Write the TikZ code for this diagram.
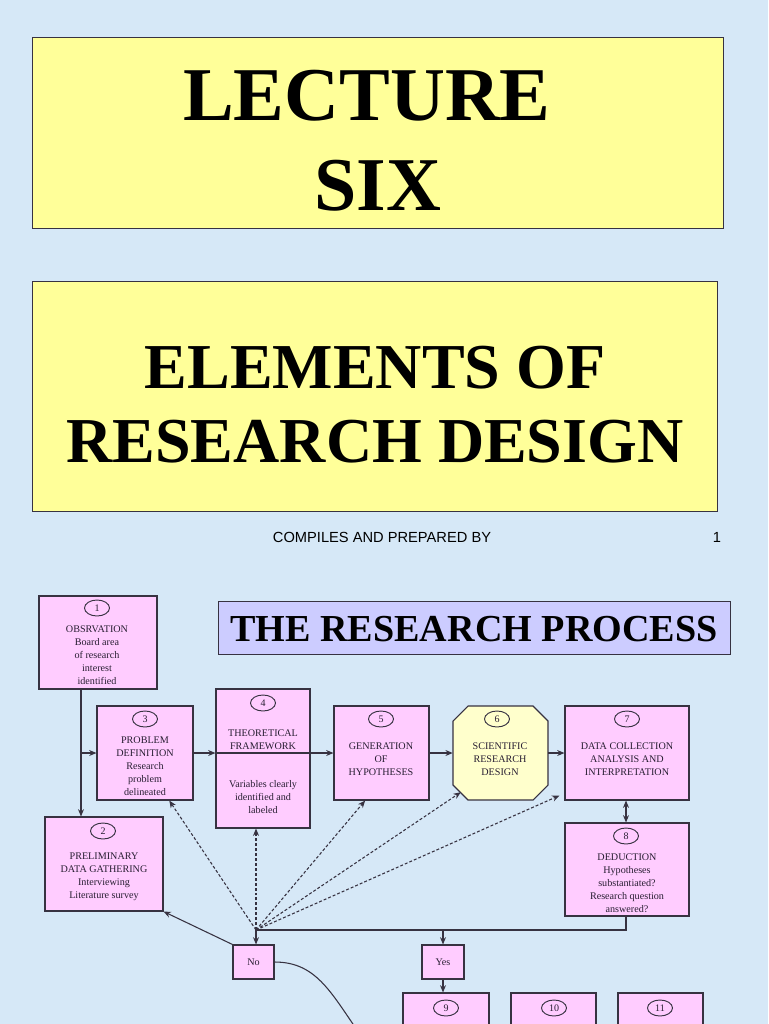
\documentclass[tikz,border=0pt]{standalone}
\usepackage{fontspec}
\setmainfont{Liberation Serif}
\newfontfamily\sansf{Liberation Sans}
\usetikzlibrary{fit,shapes.geometric,arrows.meta,calc}
\definecolor{bgc}{RGB}{214,232,247}
\definecolor{pinkf}{RGB}{255,204,255}
\definecolor{yelf}{RGB}{255,255,153}
\definecolor{octf}{RGB}{255,255,204}
\definecolor{lavf}{RGB}{204,204,255}
\definecolor{boxline}{RGB}{55,50,65}
\definecolor{txtc}{RGB}{40,30,50}
\begin{document}
\begin{tikzpicture}[x=0.75pt,y=-0.75pt,
  titlebox/.style={draw=boxline, fill=yelf, line width=0.6pt, inner sep=0pt},
  pbox/.style={draw=boxline, fill=pinkf, line width=0.8pt, inner sep=0pt},
  num/.style={draw=boxline, ellipse, line width=0.7pt, minimum width=18.75pt, minimum height=12pt, inner sep=0pt, font=\fontsize{7.5}{9}\selectfont, text=txtc},
  txt/.style={align=center, font=\fontsize{7.6}{9.75}\selectfont, text=txtc, inner sep=0pt},
  big/.style={font=\fontsize{57}{60}\selectfont\bfseries, anchor=base, inner sep=0pt},
  mid/.style={font=\fontsize{48}{50}\selectfont\bfseries, anchor=base, inner sep=0pt},
  conn/.style={line width=0.8pt, draw=boxline},
  arr/.style={conn, -{Stealth[length=5.5pt,width=4.5pt]}},
  arrb/.style={conn, {Stealth[length=5.5pt,width=4.5pt]}-{Stealth[length=5.5pt,width=4.5pt]}},
  darr/.style={arr, dash pattern=on 2.2pt off 1.5pt}
]
\clip (0,0) rectangle (768,1024);
\fill[bgc] (0,0) rectangle (768,1024);

% title boxes
\node[titlebox, fit={(32,37)(723,228)}] (t1) {};
\node[big] (lec) at (367,120) {LECTURE};
\node[big] (six) at (378,210) {SIX};
\node[titlebox, fit={(32,281)(717,511)}] (t2) {};
\node[mid] (el) at (375,388) {ELEMENTS OF};
\node[mid] (rd) at (375,462) {RESEARCH DESIGN};
\node[font=\sansf\fontsize{11}{13}\selectfont, anchor=base, inner sep=0pt] (comp) at (382,542) {COMPILES AND PREPARED BY};
\node[font=\sansf\fontsize{11}{13}\selectfont, anchor=base, inner sep=0pt] (pg) at (717,542) {1};

\node[draw=boxline, fill=lavf, line width=0.7pt, inner sep=0pt, fit={(218,601)(730,654)}] (rp) {};
\node[font=\fontsize{28.6}{30}\selectfont\bfseries, anchor=base, inner sep=0pt] (rpt) at (474,641) {THE RESEARCH PROCESS};

% flowchart boxes
\node[pbox, fit={(39,596)(157,689)}] (n1) {};
\node[num] (c1) at (97,608) {1};
\node[txt] (x1) at (97,655) {OBSRVATION\\Board area\\of research\\interest\\identified};

\node[pbox, fit={(97,706)(193,800)}] (n3) {};
\node[num] (c3) at (145,719) {3};
\node[txt] (x3) at (145,766) {PROBLEM\\DEFINITION\\Research\\problem\\delineated};

\node[pbox, fit={(216,689)(310,828)}] (n4) {};
\node[num] (c4) at (263,703) {4};
\node[txt] (x4a) at (263,739.5) {THEORETICAL\\FRAMEWORK};
\node[txt] (x4b) at (263,797) {Variables clearly\\identified and\\labeled};

\node[pbox, fit={(334,706)(429,800)}] (n5) {};
\node[num] (c5) at (381,719) {5};
\node[txt] (x5) at (381,759) {GENERATION\\OF\\HYPOTHESES};

\path[draw=boxline, fill=octf, line width=0.8pt] (468,706) -- (533,706) -- (548,721) -- (548,785) -- (533,800) -- (468,800) -- (453,785) -- (453,721) -- cycle;
\node[inner sep=0pt, fit={(453,706)(548,800)}] (n6) {};
\node[num] (c6) at (497,719) {6};
\node[txt] (x6) at (500,759) {SCIENTIFIC\\RESEARCH\\DESIGN};

\node[pbox, fit={(565,706)(689,800)}] (n7) {};
\node[num] (c7) at (627,719) {7};
\node[txt] (x7) at (627,759) {DATA COLLECTION\\ANALYSIS AND\\INTERPRETATION};

\node[pbox, fit={(565,823)(689,916)}] (n8) {};
\node[num] (c8) at (626,836) {8};
\node[txt] (x8) at (627,883) {DEDUCTION\\Hypotheses\\substantiated?\\Research question\\answered?};

\node[pbox, fit={(45,817)(163,911)}] (n2) {};
\node[num] (c2) at (103,831) {2};
\node[txt] (x2) at (104,876.5) {PRELIMINARY\\DATA GATHERING\\Interviewing\\Literature survey};

\node[pbox, fit={(233,945)(274,979)}] (no) {};
\node[txt] at (no.center) {No};
\node[pbox, fit={(422,945)(464,979)}] (yes) {};
\node[txt] at (yes.center) {Yes};

\node[pbox, fit={(403,993)(489,1060)}] (n9) {};
\node[num] (c9) at (446,1008) {9};
\node[pbox, fit={(511,993)(596,1060)}] (n10) {};
\node[num] (c10) at (554,1008) {10};
\node[pbox, fit={(618,993)(703,1060)}] (n11) {};
\node[num] (c11) at (660,1008) {11};

% connectors
\coordinate (j1) at (81,753);
\coordinate (row) at (0,753);
\coordinate (sp) at (256,930);
\coordinate (cend) at (364,1040);

\draw[arr] (j1 |- n1.south) -- (j1 |- n2.north);
\draw[arr] (j1) -- (j1 -| n3.west);
\draw[arr] (n3.east |- row) -- (n4.west |- row);
\draw[arr] (n4.west |- row) -- (n5.west |- row);
\draw[arr] (n5.east |- row) -- (n6.west |- row);
\draw[arr] (n6.east |- row) -- (n7.west |- row);
\draw[arrb] (n7.south -| c8) -- (n8.north -| c8);
\draw[conn] (n8.south -| c8) |- (sp);
\draw[arr] (sp) -- (sp |- no.north);
\draw[arr] (yes.north |- sp) -- (yes.north);
\draw[arr] (yes.south) -- (yes.south |- n9.north);
\draw[arr] (no.north west) -- (n2.south east);
\draw[conn] (no.east) .. controls (318,962) and (332,995) .. (cend);

\draw[darr] (sp) -- ($(n3.south)!0.5!(n3.south east)$);
\draw[darr] (sp) -- (sp |- n4.south);
\draw[darr] (sp) -- ($(n5.south west)!0.33!(n5.south east)$);
\draw[darr] (sp) -- ($(n6.south west)+(8,-8)$);
\draw[darr] (sp) -- ($(n7.south west)+(-5,-5)$);
\end{tikzpicture}
\end{document}
